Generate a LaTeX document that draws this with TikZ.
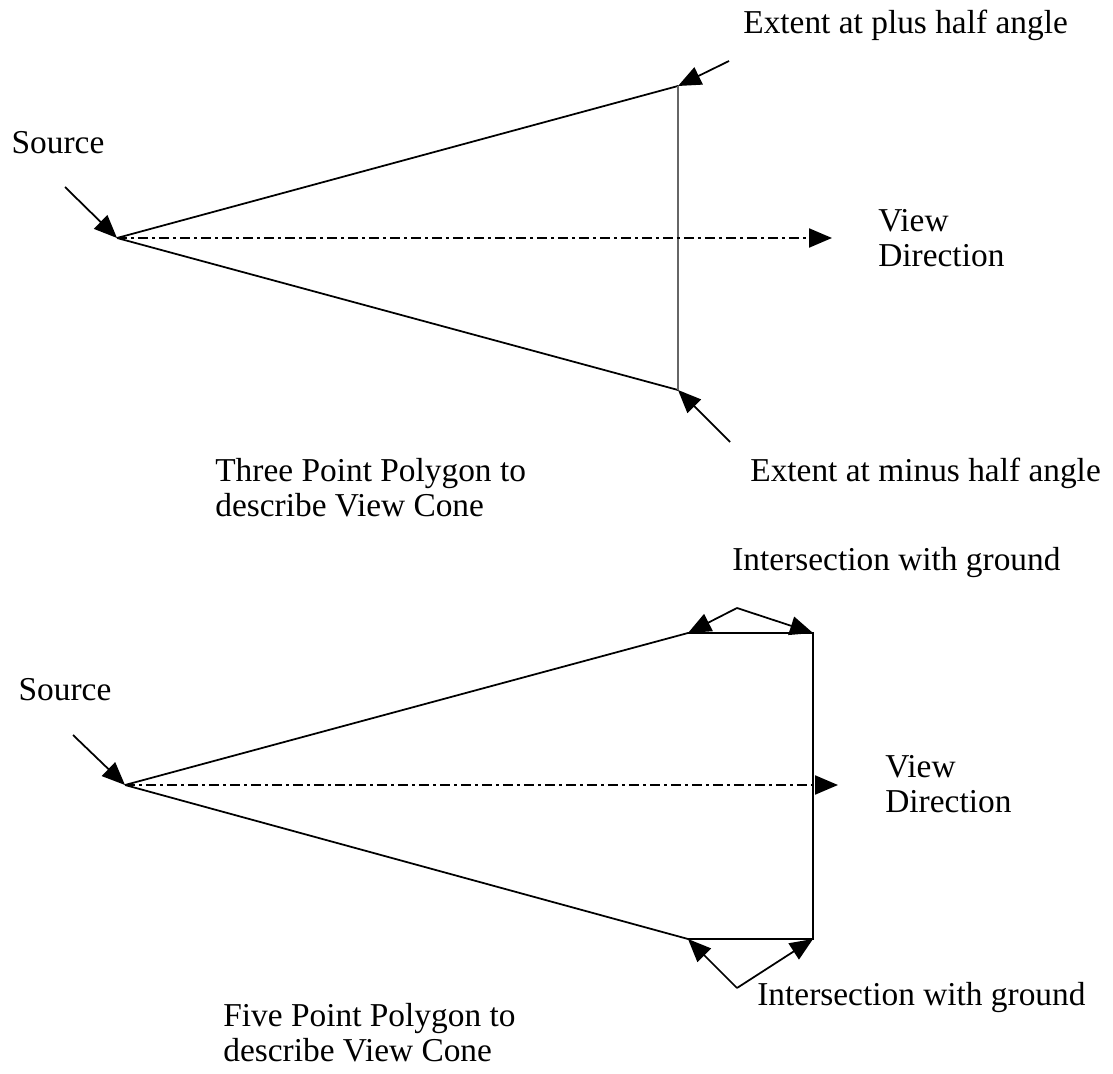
\documentclass[tikz,border=0pt]{standalone}
\usepackage{fontspec}
\setmainfont{Liberation Serif}
\usetikzlibrary{arrows.meta,positioning}

\begin{document}
\begin{tikzpicture}[x=0.02cm,y=-0.02cm]
  \tikzstyle{txt}=[inner sep=0pt,align=left,font=\fontsize{19}{20}\selectfont]
  \tikzstyle{coneline}=[line width=1pt]
  \tikzstyle{pointer}=[line width=1pt,-{Triangle[length=0.46cm,width=0.38cm]}]
  \tikzstyle{viewdir}=[pointer,line width=1.2pt,dash pattern=on 0.2cm off 0.08cm on 0.06cm off 0.08cm]
  \useasboundingbox (0,0) rectangle (1113,1074);

  % three point polygon
  \coordinate (src1) at (117,238);
  \coordinate (plus1) at (678,86);
  \coordinate (minus1) at (678,390);
  \coordinate (vd1) at (832,238);
  \coordinate (srcfrom1) at (65,187);
  \coordinate (plusfrom1) at (729,61);
  \coordinate (minusfrom1) at (730,442);

  \node[txt] (srclbl1) at (58,143) {Source};
  \node[txt, anchor=west] (pluslbl) at (743,25) {Extent at plus half angle};
  \node[txt, anchor=west] (minuslbl) at (750,473) {Extent at minus half angle};
  \node[txt, anchor=west] (vdlbl1) at (878,238) {View\\Direction};
  \node[txt, anchor=west] (caption1) at (215,488) {Three Point Polygon to\\describe View Cone};

  \draw[coneline] (src1) -- (plus1);
  \draw[coneline] (src1) -- (minus1);
  \draw[coneline, black!60] (plus1) -- (minus1);
  \draw[viewdir] (src1) -- (vd1);
  \draw[pointer] (srcfrom1) -- (src1);
  \draw[pointer] (plusfrom1) -- (plus1);
  \draw[pointer] (minusfrom1) -- (minus1);

  % five point polygon
  \coordinate (src2) at (125,785);
  \coordinate (gndtl) at (688,633);
  \coordinate (gndtr) at (813,633);
  \coordinate (gndbr) at (813,939);
  \coordinate (gndbl) at (688,939);
  \coordinate (vd2) at (838,785);
  \coordinate (srcfrom2) at (73,735);
  \coordinate (gndfromt) at (737,608);
  \coordinate (gndfromb) at (737,988);

  \node[txt] (srclbl2) at (65,690) {Source};
  \node[txt, anchor=west] (gndlblt) at (732,563) {Intersection with ground};
  \node[txt, anchor=west] (gndlblb) at (757,998) {Intersection with ground};
  \node[txt, anchor=west] (vdlbl2) at (885,784) {View\\Direction};
  \node[txt, anchor=west] (caption2) at (223,1033) {Five Point Polygon to\\describe View Cone};

  \draw[coneline] (src2) -- (gndtl) -- (gndtr) -- (gndbr) -- (gndbl) -- (src2);
  \draw[viewdir] (src2) -- (vd2);
  \draw[pointer] (srcfrom2) -- (src2);
  \draw[pointer] (gndfromt) -- (gndtl);
  \draw[pointer] (gndfromt) -- (gndtr);
  \draw[pointer] (gndfromb) -- (gndbl);
  \draw[pointer] (gndfromb) -- (gndbr);

\end{tikzpicture}
\end{document}
